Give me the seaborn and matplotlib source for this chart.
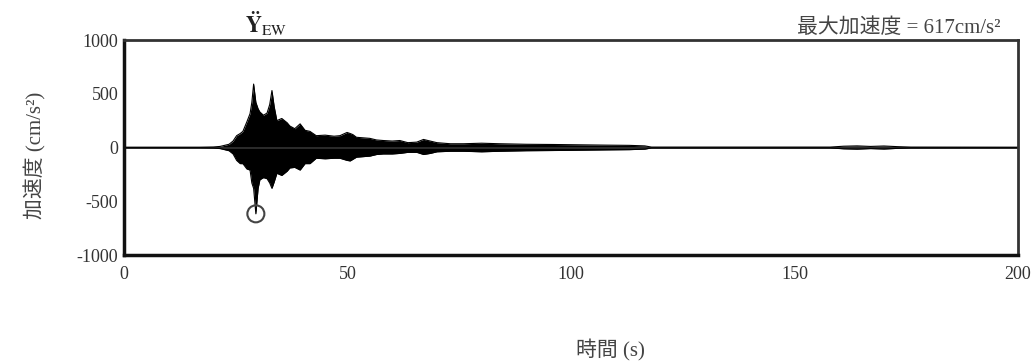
import matplotlib
matplotlib.use("Agg")
import matplotlib.pyplot as plt
import seaborn as sns
import pandas as pd

# Acceleration record: envelope of the trace (time in s, acceleration in cm/s^2)
time_s = [0, 17, 20, 21.5, 22.5, 23.5, 24.4, 25.2, 26.0, 26.6, 27.5, 28.2, 28.6,
          29.0, 29.5, 30.0, 30.4, 31.2, 32.0, 32.6, 33.1, 33.6, 34.2, 35.3, 36.5,
          37.1, 38.2, 39.4, 40.5, 41.6, 43.0, 45.0, 47.0, 48.3, 49.9, 50.6, 51.2,
          52.0, 53.5, 55.0, 56.5, 58.0, 60.0, 61.7, 63.5, 65.5, 67.0, 68.5, 70.0,
          73.0, 76.0, 80.0, 84.0, 90.0, 96.0, 102.0, 108.0, 113.0, 116.5, 118.0,
          158.0, 161.0, 164.0, 167.0, 170.0, 173.0, 176.0, 200.0]
upper = [3, 3, 5, 10, 20, 30, 60, 110, 130, 150, 240, 315, 420,
         590, 420, 360, 330, 300, 320, 400, 530, 380, 250, 270, 230,
         200, 175, 220, 160, 150, 110, 115, 105, 110, 140, 130, 120,
         95, 90, 85, 70, 65, 60, 65, 45, 50, 75, 60, 45,
         35, 35, 40, 35, 30, 28, 25, 22, 20, 15, 4,
         4, 12, 15, 10, 14, 8, 4, 3]
lower = [-3, -3, -5, -10, -20, -30, -60, -120, -150, -150, -200, -210, -330,
         -380, -617, -380, -300, -280, -290, -330, -380, -320, -240, -260, -220,
         -190, -185, -210, -150, -150, -100, -105, -100, -100, -120, -125, -110,
         -90, -85, -80, -65, -60, -60, -55, -45, -45, -65, -55, -40,
         -35, -35, -40, -35, -30, -28, -25, -22, -20, -15, -4,
         -4, -12, -15, -10, -14, -8, -4, -3]

# Peak acceleration, marked with a circle
peak_time = [29.5]
peak_acc = [-617]

y_ticks = [-1000, -500, 0, 500, 1000]
x_ticks = [0, 50, 100, 150, 200]

sns.set_style("white")
plt.rcParams["font.family"] = ["Liberation Serif", "Noto Sans CJK JP", "DejaVu Sans"]
plt.rcParams["mathtext.fontset"] = "stix"

fig = plt.figure(figsize=(10.35, 3.63), dpi=100)
ax = fig.add_axes([0.1198, 0.2975, 0.8638, 0.5923])

env = pd.DataFrame({"t": time_s, "up": upper, "lo": lower})
ax.fill_between(env["t"], env["lo"], env["up"], color="black", linewidth=0)
sns.lineplot(data=env, x="t", y="up", ax=ax, color="black", linewidth=0.8)
sns.lineplot(data=env, x="t", y="lo", ax=ax, color="black", linewidth=0.8)
ax.axhline(0, color="#333333", linewidth=1.2, zorder=1)

pk = pd.DataFrame({"t": peak_time, "a": peak_acc})
sns.scatterplot(data=pk, x="t", y="a", ax=ax, s=150, facecolor="none",
                edgecolor="#444444", linewidth=1.5, zorder=5)

ax.set_xlim(0, 200)
ax.set_ylim(-1000, 1000)
ax.set_xticks(x_ticks)
ax.set_yticks(y_ticks)
ax.set_xticklabels([str(v) for v in x_ticks])
ax.set_yticklabels([str(v) for v in y_ticks])
ax.tick_params(axis="both", direction="in", length=5, width=1, labelsize=13,
               colors="#333333")
ax.tick_params(axis="x", pad=8)
ax.tick_params(axis="y", pad=4)

for side in ["left", "bottom"]:
    ax.spines[side].set_linewidth(2.5)
    ax.spines[side].set_color("#111111")
for side in ["top", "right"]:
    ax.spines[side].set_linewidth(2.0)
    ax.spines[side].set_color("#333333")
    ax.spines[side].set_visible(True)

ax.set_xlabel("")
ax.set_ylabel("")
fig.text(610 / 1035, 1 - 350 / 363, "時間 (s)", ha="center", va="center",
         fontsize=15, color="#444444")
fig.text(35 / 1035, 1 - 155 / 363, "加速度 (cm/s²)", ha="center", va="center",
         rotation=90, fontsize=15, color="#444444")

ax.text(0.135, 1.01, r"$\mathbf{\ddot{Y}}_{\rm EW}$", transform=ax.transAxes,
        ha="left", va="bottom", fontsize=16, color="#222222")
ax.text(0.98, 1.01, "最大加速度 = 617cm/s²", transform=ax.transAxes,
        ha="right", va="bottom", fontsize=15, color="#444444")

fig.savefig("out.png", dpi=100)
